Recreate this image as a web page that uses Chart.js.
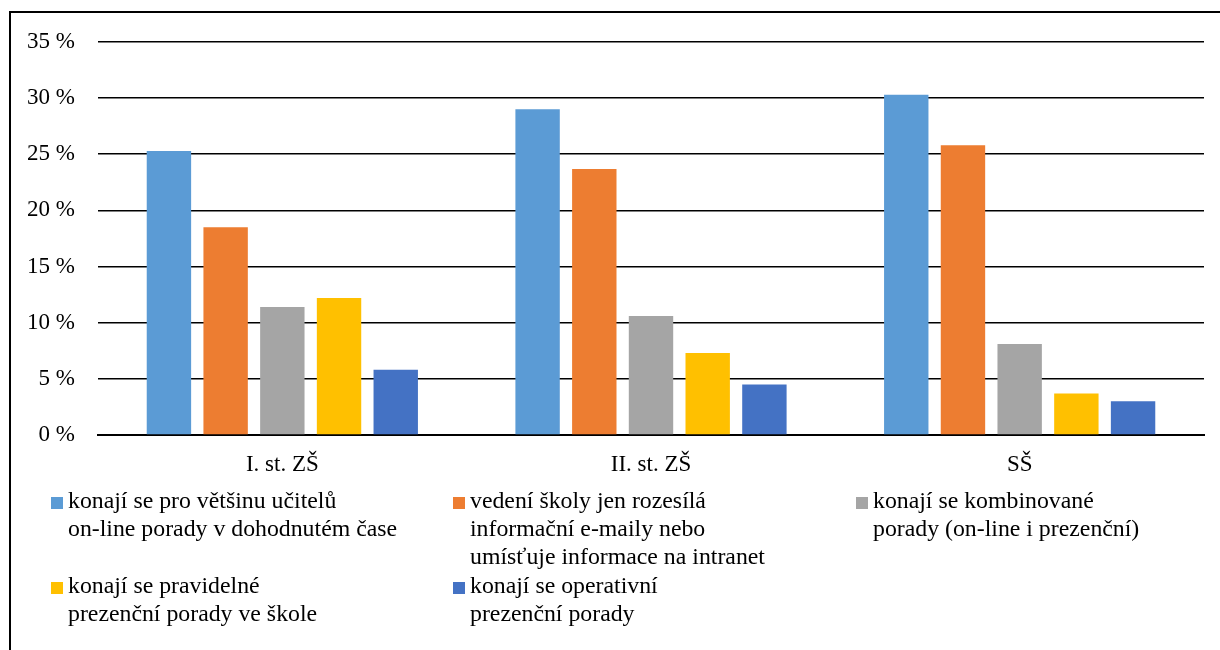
<!DOCTYPE html>
<html><head><meta charset="utf-8">
<script src="https://cdn.jsdelivr.net/npm/chart.js@4.4.1/dist/chart.umd.min.js"></script>
<style>html,body{margin:0;padding:0;background:#fff;overflow:hidden}
#wrap{position:absolute;left:0;top:0;width:1220px;height:650px}</style>
</head><body><div id="wrap"><canvas id="c" width="1220" height="650"></canvas></div>
<script>
const categories = ['I. st. ZŠ', 'II. st. ZŠ', 'SŠ'];
const seriesNames = [
  ['konají se pro většinu učitelů', 'on-line porady v dohodnutém čase'],
  ['vedení školy jen rozesílá', 'informační e-maily nebo', 'umísťuje informace na intranet'],
  ['konají se kombinované', 'porady (on-line i prezenční)'],
  ['konají se pravidelné', 'prezenční porady ve škole'],
  ['konají se operativní', 'prezenční porady']
];
const onlineMost = [25.3, 29.0, 30.3];
const emailsOnly = [18.5, 23.7, 25.8];
const combined = [11.4, 10.6, 8.1];
const regularInPerson = [12.2, 7.3, 3.7];
const operativeInPerson = [5.8, 4.5, 3.0];
const yTicks = [0, 5, 10, 15, 20, 25, 30, 35];
const colors = ['#5B9BD5', '#ED7D31', '#A5A5A5', '#FFC000', '#4472C4'];

const FAM = '"Liberation Serif", "Times New Roman", serif';
const values = [onlineMost, emailsOnly, combined, regularInPerson, operativeInPerson];

const framePlugin = {
  id: 'frame',
  beforeDraw(chart) {
    const ctx = chart.ctx;
    ctx.save();
    ctx.fillStyle = '#000';
    ctx.fillRect(9, 11, 1211, 2);
    ctx.fillRect(9, 11, 2, 639);
    ctx.restore();
  }
};

const legendPlugin = {
  id: 'customLegend',
  afterDraw(chart) {
    const ctx = chart.ctx;
    ctx.save();
    ctx.font = '23.8px ' + FAM;
    ctx.fillStyle = '#000';
    ctx.textBaseline = 'alphabetic';
    const colX = [51, 453, 856];
    const lh = 28;
    let rowY = 508;
    const ds = chart.data.datasets;
    for (let r = 0; r * 3 < ds.length; r++) {
      let maxLines = 0;
      for (let c = 0; c < 3; c++) {
        const i = r * 3 + c;
        if (i >= ds.length) break;
        const lines = ds[i].legendLines;
        ctx.fillStyle = ds[i].backgroundColor;
        ctx.fillRect(colX[c], rowY - 11, 12, 12);
        ctx.fillStyle = '#000';
        lines.forEach((t, k) => ctx.fillText(t, colX[c] + 17, rowY + k * lh));
        maxLines = Math.max(maxLines, lines.length);
      }
      rowY += maxLines * lh + 1;
    }
    ctx.restore();
  }
};

new Chart(document.getElementById('c'), {
  type: 'bar',
  data: {
    labels: categories,
    datasets: values.map((v, i) => ({
      label: seriesNames[i].join(' '),
      legendLines: seriesNames[i],
      data: v,
      backgroundColor: colors[i],
      borderWidth: 0,
      categoryPercentage: 0.769,
      barPercentage: 0.783
    }))
  },
  options: {
    responsive: false,
    animation: false,
    devicePixelRatio: 1,
    layout: { padding: { left: 10, right: 16, top: 42, bottom: 0 } },
    plugins: { legend: { display: false }, tooltip: { enabled: false }, title: { display: false } },
    scales: {
      x: {
        grid: { display: false, drawTicks: false },
        border: { display: true, color: '#000', width: 2 },
        ticks: { font: { family: FAM, size: 23 }, color: '#000', padding: 16 },
        afterFit(s) { s.height = 215; }
      },
      y: {
        min: 0, max: 35,
        afterBuildTicks(s) { s.ticks = yTicks.map(v => ({ value: v })); },
        grid: { color: '#000', lineWidth: 1.6, drawTicks: false },
        border: { display: false },
        ticks: { font: { family: FAM, size: 23 }, color: '#000', padding: 23, callback: v => v + ' %' },
        afterFit(s) { s.width = 88; }
      }
    }
  },
  plugins: [framePlugin, legendPlugin]
});
</script>
</body></html>
